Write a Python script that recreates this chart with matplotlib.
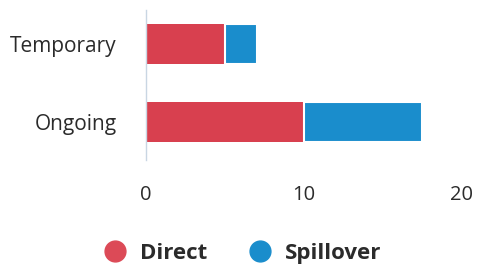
import matplotlib
matplotlib.use("Agg")
import matplotlib.pyplot as plt
from matplotlib.lines import Line2D

categories = ["Ongoing", "Temporary"]
direct = [10.0, 5.0]
spillover = [7.5, 2.0]
xticks = [0, 10, 20]

red = "#D8404F"
blue = "#1A8DCC"
txt = "#2b2b2b"

plt.rcParams['font.family'] = ['Open Sans', 'DejaVu Sans']

fig = plt.figure(figsize=(4.8, 2.71), dpi=100)
ax = fig.add_axes([0.304, 0.41, 0.6585, 0.553])

ypos = list(range(len(categories)))
ax.barh(ypos, direct, height=0.51, color=red, label="Direct")
ax.barh(ypos, spillover, left=direct, height=0.51, color=blue, label="Spillover",
        edgecolor="white", linewidth=1.5)

ax.set_xlim(0, 20)
ax.set_ylim(-0.49, 1.44)
ax.set_yticks(ypos)
ax.set_yticklabels(categories, fontsize=15, color=txt)
ax.set_xticks(xticks)
ax.set_xticklabels([str(t) for t in xticks], fontsize=14.5, color=txt)
ax.tick_params(axis='y', length=0, pad=21)
ax.tick_params(axis='x', length=0, pad=18)
for s in ["top", "right", "bottom"]:
    ax.spines[s].set_visible(False)
ax.spines["left"].set_color("#c9d6e3")
ax.spines["left"].set_linewidth(1)

handles = [Line2D([], [], marker='o', linestyle='none', markersize=15, color="#DC4A57"),
           Line2D([], [], marker='o', linestyle='none', markersize=15, color="#1A8DCC")]
fig.legend(handles, ["Direct", "Spillover"], loc="center", bbox_to_anchor=(0.494, 0.065),
           ncol=2, frameon=False, prop={'weight': 'bold', 'size': 16},
           handletextpad=0.15, columnspacing=1.35, labelcolor=txt)

fig.savefig("out.png", dpi=100)
